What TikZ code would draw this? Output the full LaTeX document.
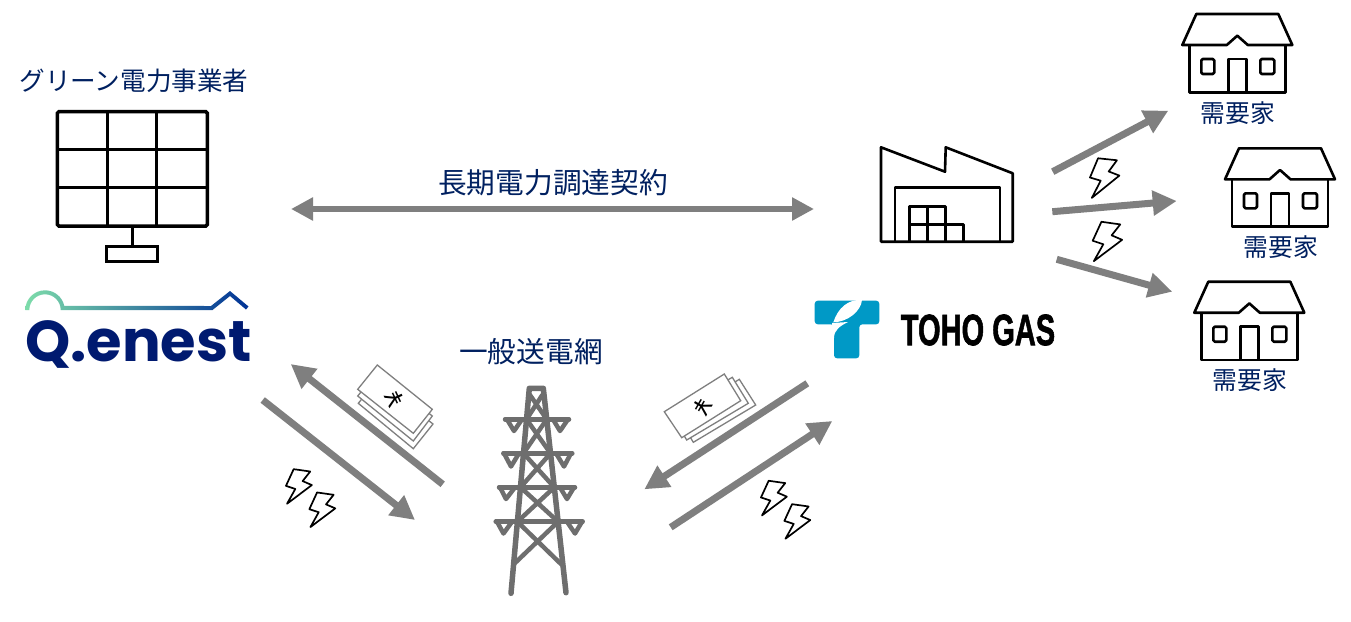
\documentclass[tikz,border=0pt]{standalone}
\usepackage{fontspec}
\setmainfont{Noto Sans CJK JP}
\newfontfamily\enestfont{Poppins}
\newfontfamily\gasfont[BoldFeatures={FakeBold=1.6}]{Liberation Sans}
\usetikzlibrary{arrows.meta}
\definecolor{labelnavy}{HTML}{002060}
\definecolor{enestnavy}{HTML}{001A70}
\definecolor{enestmint}{RGB}{125,220,170}
\definecolor{enestcyan}{RGB}{0,190,200}
\definecolor{enestblue}{RGB}{0,50,150}
\definecolor{tohoblue}{RGB}{0,153,198}
\definecolor{flowgray}{HTML}{7F7F7F}
\definecolor{towergray}{HTML}{6E6E6E}
\tikzset{
  bigtext/.style={text=labelnavy,inner sep=0pt,font=\fontsize{28.7}{30}\selectfont},
  smalltext/.style={text=labelnavy,inner sep=0pt,font=\fontsize{24.8}{26}\selectfont},
  iconline/.style={draw=black,line width=2.6pt,line join=round},
  flow/.style={draw=flowgray,line width=7pt,-{Triangle[length=24pt,width=24pt]}},
  towerline/.style={draw=towergray,line width=4.5pt,line cap=round,line join=round},
  noteline/.style={draw=flowgray,line width=1.3pt,fill=white},
  yentext/.style={inner sep=0pt,font=\gasfont\fontsize{25}{25}\selectfont},
  housepic/.pic={
    \draw[iconline] (-41,0) -- (41,0) -- (55,31) -- (10.5,31) -- (0,21.7) -- (-10.5,31) -- (-55,31) -- cycle;
    \draw[iconline] (-48,31) -- (-48,78.3) -- (48,78.3) -- (48,31);
    \draw[iconline,rounded corners=1.5pt] (-36,45) rectangle (-23,60);
    \draw[iconline,rounded corners=1.5pt] (23,45) rectangle (37,60);
    \draw[iconline] (-9,78.3) -- (-9,45) -- (9,45) -- (9,78.3);
  },
  boltpic/.pic={
    \draw[black,line width=1.7pt,line join=round,fill=white] (-8,-19) -- (11,-19) -- (4,-7) -- (15,-4) -- (-10,21) -- (-3,3) -- (-14,1) -- cycle;
  }
}
\begin{document}
\begin{tikzpicture}[x=1pt,y=-1pt]
\useasboundingbox (0,0) rectangle (1351,621);
% Labels
\node[smalltext,font=\fontsize{25.6}{27}\selectfont] (green) at (134,81) {グリーン電力事業者};
\node[bigtext] (ppa) at (553,183) {長期電力調達契約};
\node[bigtext] (grid) at (531,352) {一般送電網};
\node[smalltext] (cust1) at (1238,113) {需要家};
\node[smalltext] (cust2) at (1281,247) {需要家};
\node[smalltext] (cust3) at (1250,380) {需要家};
% Solar panel
\draw[line width=3.5pt,rounded corners=1.5pt] (57.3,111.7) rectangle (207.3,226);
\draw[line width=3.5pt] (107.7,111.7) -- (107.7,226);
\draw[line width=3.5pt] (156.7,111.7) -- (156.7,226);
\draw[line width=3.5pt] (57.3,149.3) -- (207.3,149.3);
\draw[line width=3.5pt] (57.3,187.3) -- (207.3,187.3);
\draw[line width=3.5pt] (132.3,226) -- (132.3,246.7);
\draw[line width=3.5pt] (106.7,246.7) rectangle (157.3,261.7);
% Q.enest logo
\shade[left color=enestmint,middle color=enestcyan,right color=enestblue]
  (25.3,310) arc[start angle=180,end angle=348,radius=19.7] -- (211,306) -- (230,291) -- (248.5,306.5) -- (246,309.5) -- (230,296) -- (212.5,310) -- (60.7,310) arc[start angle=360,end angle=180,radius=15.7] -- cycle;
\node[inner sep=0pt,text=enestnavy,font=\enestfont\bfseries\fontsize{57.5}{58}\selectfont] (enest) at (138.5,344) {Q.enest};
% Factory
\draw[iconline] (881,241.7) -- (881,147.3) -- (945,171.7) -- (945.7,147.3) -- (1012.7,173.3) -- (1012.7,241.7) -- cycle;
\draw[iconline] (895,241.7) -- (895,187.3) -- (1000,187.3) -- (1000,241.7);
\draw[iconline] (909.3,241.7) -- (909.3,206.7) -- (945.7,206.7) -- (945.7,241.7);
\draw[iconline] (927.3,206.7) -- (927.3,241.7);
\draw[iconline] (909.3,224.3) -- (963.3,224.3) -- (963.3,241.7);
% Toho Gas logo
\fill[tohoblue,rounded corners=3pt] (814.7,300.7) -- (879.3,300.7) -- (879.3,324.3) -- (859.3,324.3) -- (859.3,358.3) -- (834,358.3) -- (834,324.3) -- (814.7,324.3) -- cycle;
\fill[white] (833.3,322.3) .. controls (838,308) and (848,299) .. (862,300) .. controls (861,311) and (848,322) .. cycle;
\fill[white] (832,323) -- (834,338) .. controls (834,330) and (840,326) .. (848,322) -- cycle;
\node[inner sep=0pt,xscale=.66,font=\gasfont\bfseries\fontsize{44}{44}\selectfont] (toho) at (978,330) {TOHO GAS};
% Houses
\pic at (1237.3,14) {housepic};
\pic at (1280,148.3) {housepic};
\pic at (1249.3,281.7) {housepic};
% Flow ends
\coordinate (ppaL) at (291,209);
\coordinate (ppaR) at (814,209);
\coordinate (yenAs) at (442.7,484.3);
\coordinate (yenAe) at (290.7,364);
\coordinate (powAs) at (262.7,400);
\coordinate (powAe) at (415,520);
\coordinate (yenBs) at (807.3,383.3);
\coordinate (yenBe) at (644.3,489.3);
\coordinate (powBs) at (670.7,527.3);
\coordinate (powBe) at (832.3,421);
\coordinate (outAs) at (1052.7,171.7);
\coordinate (outAe) at (1168.3,110.7);
\coordinate (outBs) at (1052.3,211.7);
\coordinate (outBe) at (1176.7,201);
\coordinate (outCs) at (1056.7,259.3);
\coordinate (outCe) at (1172.3,291.7);
% Flows
\draw[flow,line width=6pt,{Triangle[length=22pt,width=22pt]}-{Triangle[length=22pt,width=22pt]}] (ppaL) -- (ppaR);
\draw[flow] (yenAs) -- (yenAe);
\draw[flow] (powAs) -- (powAe);
\draw[flow] (yenBs) -- (yenBe);
\draw[flow] (powBs) -- (powBe);
\draw[flow] (outAs) -- (outAe);
\draw[flow] (outBs) -- (outBe);
\draw[flow] (outCs) -- (outCe);
% Bolts
\pic[rotate=-6] at (1104,178) {boltpic};
\pic[rotate=-8] at (1106.7,241.7) {boltpic};
\pic[rotate=-8,scale=.88] at (298.3,486.7) {boltpic};
\pic[rotate=-8,scale=.88] at (321.7,510) {boltpic};
\pic[rotate=-8,scale=.88] at (773.3,498.3) {boltpic};
\pic[rotate=-8,scale=.88] at (796.7,521.7) {boltpic};
% Banknotes
\draw[noteline] (377.3,380) -- (433,424) -- (413.3,448.7) -- (358.3,403.3) -- cycle;
\draw[noteline] (377.3,372) -- (432.3,416) -- (413.3,441) -- (357.7,396) -- cycle;
\draw[noteline] (377.3,365) -- (432.3,409.3) -- (413.3,433.3) -- (357.7,389.3) -- cycle;
\node[yentext,rotate=115] (yenA) at (395,398.5) {¥};
\draw[noteline] (739.3,379.3) -- (755.7,405) -- (693.3,442.3) -- (678,417) -- cycle;
\draw[noteline] (732.3,377.3) -- (748.3,403.3) -- (686.7,440) -- (671,414) -- cycle;
\draw[noteline] (724.3,374) -- (740.7,400.7) -- (681.7,437.7) -- (664.3,411.7) -- cycle;
\node[yentext,rotate=-120] (yenB) at (702.7,406.7) {¥};
% Tower
\draw[towerline,line width=5.5pt] (511,593.3) -- (529.3,388.3) -- (543.3,388.3) -- (566,592.7);
\draw[towerline] (530,395) -- (546.7,419.3) (542.3,395) -- (526.5,419.3);
\draw[towerline] (526.5,419.3) -- (550.5,453.3) (546.7,419.3) -- (523.5,453.3);
\draw[towerline] (523.5,453.3) -- (554.3,487.3) (550.5,453.3) -- (520.5,487.3);
\draw[towerline] (520.5,487.3) -- (558.1,521.7) (554.3,487.3) -- (517.4,521.7);
\draw[towerline] (517.4,521.7) -- (562,565) (558.1,521.7) -- (515,563);
\draw[towerline] (505,419.3) -- (569,419.3);
\draw[towerline] (503.3,453.3) -- (572.3,453.3);
\draw[towerline] (499,487.3) -- (575,487.3);
\draw[towerline] (495.7,521.7) -- (582.7,521.7);
\draw[towerline] (507,419.3) -- (514,431) -- (522,419.3);
\draw[towerline] (553,419.3) -- (560,431) -- (568,419.3);
\draw[towerline] (504,453.3) -- (511,466.5) -- (519,453.3);
\draw[towerline] (556,453.3) -- (564,466.5) -- (571,453.3);
\draw[towerline] (500,487.3) -- (506,499) -- (515,487.3);
\draw[towerline] (560,487.3) -- (567,499) -- (574,487.3);
\draw[towerline] (497,521.7) -- (503.5,533.5) -- (512,521.7);
\draw[towerline] (567,521.7) -- (575,533.5) -- (582,521.7);
\end{tikzpicture}
\end{document}
